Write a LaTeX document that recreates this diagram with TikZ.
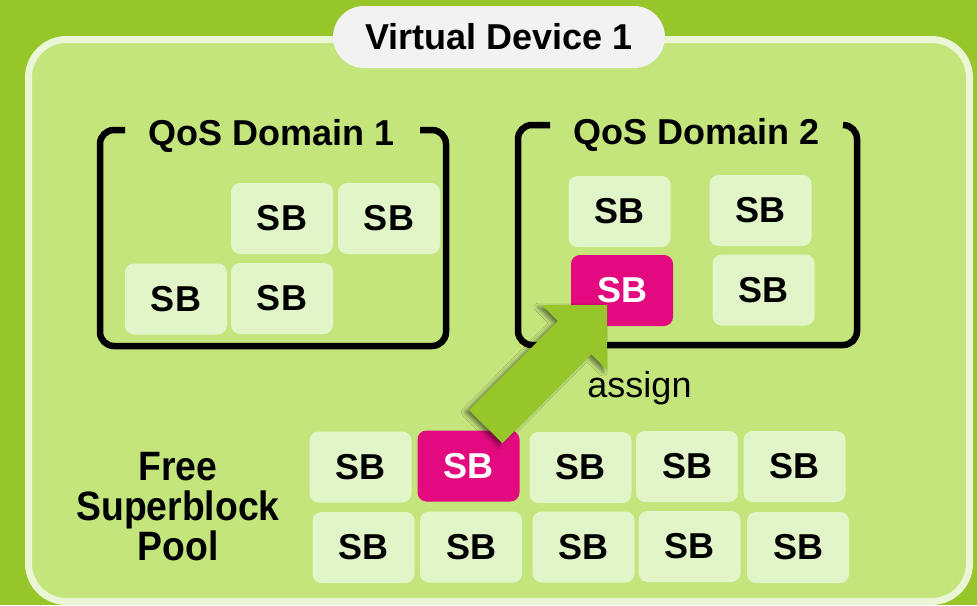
\documentclass[tikz,border=0pt]{standalone}
\usepackage{fontspec}
\usepackage{graphicx}
\setmainfont{Liberation Sans}
\usetikzlibrary{calc,shadows.blur}

\definecolor{leaf}{HTML}{96C62A}
\definecolor{panelfill}{HTML}{C4E47C}
\definecolor{panelrim}{HTML}{EAF6D6}
\definecolor{sbfill}{HTML}{E2F5C8}
\definecolor{pillfill}{HTML}{F2F2F2}
\definecolor{hot}{HTML}{E20A7E}
\definecolor{arrowgreen}{HTML}{96C62A}

\begin{document}
\begin{tikzpicture}[x=1pt,y=-1pt,
  big/.style={font=\fontsize{36}{40}\selectfont\bfseries},
  sb/.style={fill=sbfill, rounded corners=9pt, minimum width=102pt,
    minimum height=71pt, inner sep=0pt, font=\fontsize{36}{40}\selectfont\bfseries},
  sbhot/.style={sb, fill=hot, text=white},
  bracket/.style={draw=black, line width=6.5pt, rounded corners=14pt},
  pill/.style={fill=pillfill, rounded corners=31pt, minimum width=332pt,
    minimum height=62pt, inner sep=0pt, big},
  lbl/.style={inner sep=0pt, anchor=base, big}]

% canvas and device panel
\useasboundingbox (0,0) rectangle (977,605);
\fill[leaf] (0,0) rectangle (977,605);
\draw[panelrim, fill=panelfill, line width=7pt, rounded corners=38pt]
  (28.5,39.5) rectangle (969.5,601.5);

% device title
\node[pill] (vd) at (499,37) {Virtual Device 1};

% QoS domain 1
\node[sb] (d1a) at (282,218.5) {SB};
\node[sb] (d1b) at (389,218.5) {SB};
\node[sb] (d1c) at (176,299) {SB};
\node[sb] (d1d) at (282,298.5) {SB};
\draw[bracket] (125,130) -| (100,346) -| (446,130) -- (420,130);
\node[lbl] (qd1) at (271.5,145) {QoS Domain 1};

% QoS domain 2
\node[sb] (d2a) at (619.5,211.5) {SB};
\node[sb] (d2b) at (760.5,210.5) {SB};
\node[sbhot] (d2c) at (622,290.5) {SB};
\node[sb] (d2d) at (763.5,290) {SB};
\draw[bracket] (550,125) -| (518,345) -| (857,125) -- (843,125);
\node[lbl] (qd2) at (696.5,144) {QoS Domain 2};

% free superblock pool
\node[align=center, inner sep=0pt, font=\fontsize{41}{40}\selectfont\bfseries] (pool) at (178,507)
  {\scalebox{0.91}[1]{Free}\\\scalebox{0.91}[1]{Superblock}\\\scalebox{0.91}[1]{Pool}};
\node[sb] (p1) at (360.5,467) {SB};
\node[sbhot] (p2) at (468.5,466) {SB};
\node[sb] (p3) at (580.5,467.5) {SB};
\node[sb] (p4) at (687,466.5) {SB};
\node[sb] (p5) at (794.5,466.5) {SB};
\node[sb] (q1) at (363.5,547.5) {SB};
\node[sb] (q2) at (471,547) {SB};
\node[sb] (q3) at (583.5,547) {SB};
\node[sb] (q4) at (689.5,546.5) {SB};
\node[sb] (q5) at (798,547.5) {SB};

% assignment arrow
\coordinate (tail) at (485.75,426.75);
\coordinate (tip) at (607,305);
\coordinate (hb) at ($(tip)!46pt!(tail)$);
\fill[arrowgreen, blur shadow={shadow xshift=-4pt, shadow yshift=-2pt,
    shadow blur radius=4pt, shadow opacity=50}]
  ($(tail)!23.5pt!90:(tip)$) -- ($(hb)!23.5pt!-90:(tail)$) -- ($(hb)!46pt!-90:(tail)$)
  -- (tip) -- ($(hb)!46pt!90:(tail)$) -- ($(hb)!23.5pt!90:(tail)$)
  -- ($(tail)!23.5pt!-90:(tip)$) -- cycle;
\node[lbl, font=\fontsize{36}{40}\selectfont] (assign) at (639.5,397) {assign};
\end{tikzpicture}
\end{document}
